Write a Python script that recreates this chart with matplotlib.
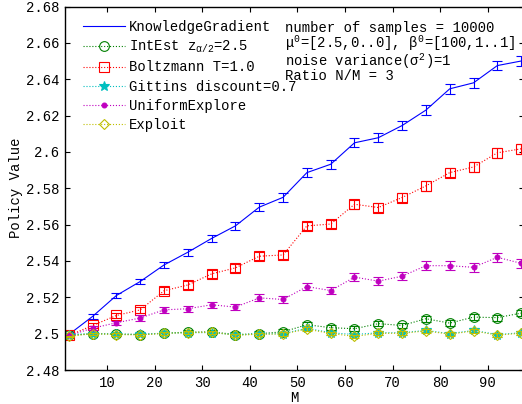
import matplotlib
matplotlib.use('Agg')
import matplotlib.pyplot as plt
from matplotlib.ticker import FuncFormatter, MultipleLocator

plt.rcParams['font.family'] = ['Liberation Mono', 'DejaVu Sans Mono']
plt.rcParams['font.size'] = 10
plt.rcParams['mathtext.fontset'] = 'custom'
plt.rcParams['mathtext.rm'] = 'Liberation Mono'
plt.rcParams['mathtext.it'] = 'Liberation Mono'
plt.rcParams['mathtext.bf'] = 'Liberation Mono:bold'

# number of arms M
m_values = [2, 7, 12, 17, 22, 27, 32, 37, 42, 47, 52, 57, 62, 67, 72, 77, 82, 87, 92, 97]

kg_mean = [2.4995, 2.5095, 2.521, 2.5287, 2.5378, 2.5448, 2.5524, 2.5593, 2.5696, 2.575,
           2.5886, 2.5932, 2.605, 2.6078, 2.6145, 2.623, 2.6347, 2.638, 2.6475, 2.650]
kg_err = [0.0005, 0.0012, 0.0013, 0.0015, 0.0017, 0.0019, 0.0021, 0.0021, 0.0022, 0.0023,
          0.0024, 0.0024, 0.0025, 0.0025, 0.0026, 0.0026, 0.0027, 0.0027, 0.0027, 0.0028]

intest_mean = [2.499, 2.500, 2.4998, 2.4995, 2.5003, 2.5008, 2.501, 2.4995, 2.500, 2.501,
               2.5049, 2.5033, 2.5027, 2.5055, 2.5045, 2.5082, 2.5058, 2.5091, 2.5088, 2.5113]
intest_err = [0.0004, 0.0008, 0.0009, 0.0010, 0.0011, 0.0012, 0.0012, 0.0013, 0.0013, 0.0014,
              0.0014, 0.0015, 0.0015, 0.0015, 0.0016, 0.0016, 0.0016, 0.0016, 0.0017, 0.0017]

boltz_mean = [2.499, 2.5045, 2.510, 2.5131, 2.5236, 2.5268, 2.5329, 2.5362, 2.5426, 2.5433,
              2.5593, 2.5603, 2.5712, 2.5694, 2.5749, 2.5813, 2.5886, 2.5917, 2.5995, 2.6017]
boltz_err = [0.0006, 0.0014, 0.0016, 0.0018, 0.0019, 0.0020, 0.0021, 0.0022, 0.0023, 0.0023,
             0.0024, 0.0024, 0.0025, 0.0025, 0.0026, 0.0026, 0.0026, 0.0027, 0.0027, 0.0027]

gittins_mean = [2.4995, 2.5, 2.4997, 2.4996, 2.5002, 2.5005, 2.5006, 2.4993, 2.4998, 2.500,
                2.503, 2.5005, 2.4995, 2.5005, 2.5005, 2.5018, 2.500, 2.5018, 2.4995, 2.5005]
gittins_err = [0.0003, 0.0006, 0.0007, 0.0007, 0.0008, 0.0008, 0.0008, 0.0009, 0.0009, 0.0009,
               0.0009, 0.0010, 0.0010, 0.0010, 0.0010, 0.0010, 0.0010, 0.0011, 0.0011, 0.0011]

uniform_mean = [2.499, 2.503, 2.506, 2.5086, 2.5131, 2.5137, 2.5159, 2.5146, 2.5197, 2.5188,
                2.5259, 2.5237, 2.5311, 2.5289, 2.5316, 2.5374, 2.5374, 2.5365, 2.542, 2.5387]
uniform_err = [0.0005, 0.0010, 0.0012, 0.0014, 0.0015, 0.0016, 0.0017, 0.0018, 0.0019, 0.0020,
               0.0020, 0.0021, 0.0022, 0.0022, 0.0023, 0.0023, 0.0024, 0.0024, 0.0025, 0.0025]

exploit_mean = [2.4985, 2.5, 2.4995, 2.4993, 2.5001, 2.5006, 2.5008, 2.4991, 2.4997, 2.4998,
                2.5025, 2.5001, 2.4985, 2.5002, 2.5002, 2.5015, 2.4997, 2.5015, 2.4992, 2.5002]
exploit_err = [0.0003, 0.0006, 0.0007, 0.0007, 0.0008, 0.0008, 0.0008, 0.0009, 0.0009, 0.0009,
               0.0009, 0.0010, 0.0010, 0.0010, 0.0010, 0.0010, 0.0010, 0.0011, 0.0011, 0.0011]

info_lines = [
    'number of samples = 10000',
    r'$\mu^0$=[2.5,0..0], $\beta^0$=[100,1..1]',
    r'noise variance($\sigma^2$)=1',
    'Ratio N/M = 3',
]

series = [
    ('KnowledgeGradient', kg_mean, kg_err, dict(color='#0000ff', ls='-', marker='None')),
    (r'IntEst z$_{\alpha/2}$=2.5', intest_mean, intest_err,
     dict(color='#008000', ls=':', marker='o', ms=7, mfc='none')),
    ('Boltzmann T=1.0', boltz_mean, boltz_err,
     dict(color='#ff0000', ls=':', marker='s', ms=7.5, mfc='none')),
    ('Gittins discount=0.7', gittins_mean, gittins_err,
     dict(color='#00bfbf', ls=':', marker='*', ms=7)),
    ('UniformExplore', uniform_mean, uniform_err,
     dict(color='#bf00bf', ls=':', marker='o', ms=3.5)),
    ('Exploit', exploit_mean, exploit_err,
     dict(color='#bfbf00', ls=':', marker='D', ms=5.5, mfc='none')),
]

fig = plt.figure(figsize=(5.22, 4.04), dpi=100)
ax = fig.add_axes([65 / 522, 34 / 404, 459 / 522, 363.5 / 404])

for label, mean, err, style in series:
    color = style['color']
    ax.errorbar(m_values, mean, yerr=err, fmt='none', ecolor=color,
                elinewidth=0.8, capsize=3.6, capthick=0.8)
    ax.plot(m_values, mean, label=label, lw=0.8, mew=0.8, **style)

ax.set_xlim(1.2, 97.6)
ax.set_ylim(2.48, 2.68)
ax.xaxis.set_major_locator(MultipleLocator(10))
ax.yaxis.set_major_locator(MultipleLocator(0.02))
ax.yaxis.set_major_formatter(FuncFormatter(lambda v, p: '%g' % round(v, 4)))
ax.tick_params(direction='in', length=3.5, width=0.8, top=True, right=True,
               labelsize=10, pad=4)
for s in ax.spines.values():
    s.set_linewidth(1.0)

ax.set_xlabel('M', labelpad=1)
ax.set_ylabel('Policy Value')
ax.yaxis.set_label_coords(-0.092, 0.5)

ax.legend(loc='upper left', bbox_to_anchor=(0.039, 0.9635), frameon=False,
          borderaxespad=0, borderpad=0, handlelength=3.0, handletextpad=0.3,
          labelspacing=0.37, fontsize=10)

# one multi-line block, like the original annotation
ax.text(0.479, 0.959, '\n'.join(info_lines), transform=ax.transAxes,
        va='top', ha='left', linespacing=0.86)

fig.savefig('out.png', dpi=100)
